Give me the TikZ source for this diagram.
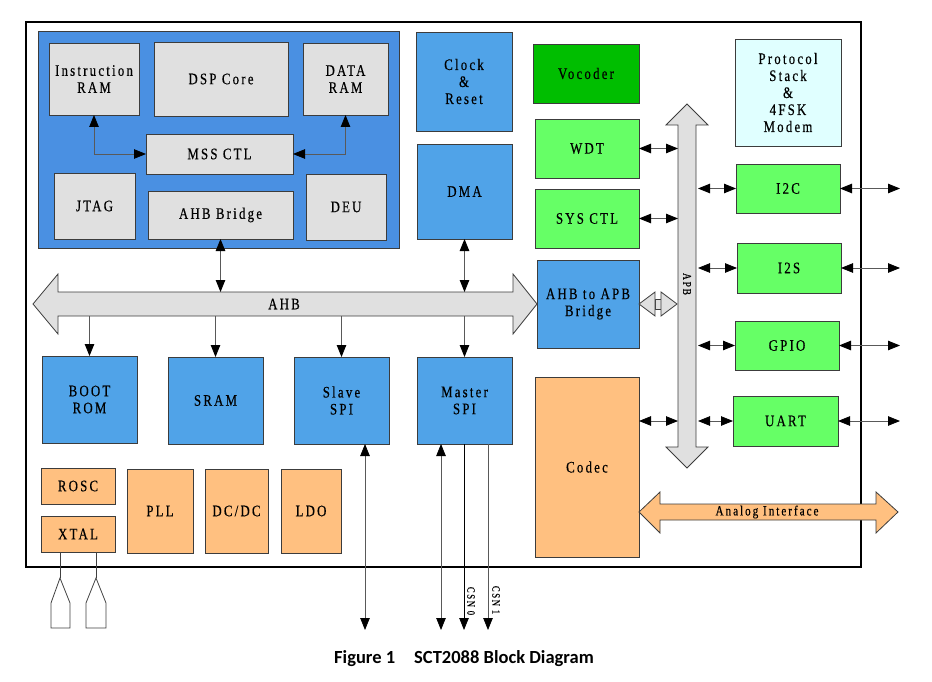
\documentclass[tikz,border=0pt]{standalone}
\usepackage{fontspec}
\setmainfont{Liberation Serif}[FakeStretch=0.8,LetterSpace=14,FakeBold=0.4]
\newfontfamily\capfont{Carlito}
\usetikzlibrary{arrows.meta}
\definecolor{dspblue}{RGB}{74,144,226}
\definecolor{blkblue}{RGB}{80,163,232}
\definecolor{graybox}{RGB}{224,224,224}
\definecolor{vocg}{RGB}{0,190,0}
\definecolor{lgreen}{RGB}{102,255,102}
\definecolor{lcyan}{RGB}{224,255,255}
\definecolor{orng}{RGB}{255,192,128}
\definecolor{edge}{RGB}{60,60,60}
\tikzset{
  box/.style={draw=edge, line width=0.9pt, inner sep=0pt, outer sep=0pt, align=center, font=\fontsize{16}{17}\selectfont},
  bus/.style={draw=edge, line width=0.8pt, fill=graybox, line join=miter},
  >={Triangle[length=12pt,width=9.5pt,color=black]},
  dbl/.style={draw=black!65, line width=0.8pt, <->},
  sgl/.style={draw=black!65, line width=0.8pt, ->},
  small/.style={font=\fontsize{12}{12}\selectfont, inner sep=0pt},
  pin/.style={draw=black!75, line width=0.8pt, fill=white}
}
\newcommand\blk[7]{\node[box,#6,minimum width={(#4-#2)*1pt},minimum height={(#5-#3)*1pt}] (#1) at ({(#2+#4)/2},{(#3+#5)/2}) {#7};}
\begin{document}
\begin{tikzpicture}[x=1pt,y=-1pt]
\useasboundingbox (0,0) rectangle (932,682);
% frame and DSP region
\blk{chip}{26}{22}{861}{567}{draw=black,line width=1.4pt}{}
\blk{dsp}{38}{31}{399}{248}{fill=dspblue}{}
\blk{iram}{49}{43}{139}{115}{fill=graybox}{Instruction\\RAM}
\blk{core}{154}{42}{288}{116}{fill=graybox}{DSP Core}
\blk{dram}{303}{43}{388}{115}{fill=graybox}{DATA\\RAM}
\blk{mss}{146}{134}{293}{174}{fill=graybox}{MSS CTL}
\blk{jtag}{54}{173}{135}{239}{fill=graybox}{JTAG}
\blk{ahbbr}{148}{191}{293}{239}{fill=graybox}{AHB Bridge}
\blk{deu}{306}{174}{386}{240}{fill=graybox}{DEU}
% upper blocks
\blk{clk}{416}{32}{512}{131}{fill=blkblue}{Clock\\\&\\Reset}
\blk{dma}{417}{144}{512}{239}{fill=blkblue}{DMA}
\blk{voc}{533}{44}{639}{103}{fill=vocg}{Vocoder}
\blk{wdt}{535}{119}{639}{178}{fill=lgreen}{WDT}
\blk{sysctl}{535}{189}{639}{248}{fill=lgreen}{SYS CTL}
\blk{proto}{735}{39}{841}{146}{fill=lcyan}{Protocol\\Stack\\\&\\4FSK\\Modem}
\blk{i2c}{736}{164}{840}{213}{fill=lgreen}{I2C}
\blk{i2s}{737}{243}{841}{293}{fill=lgreen}{I2S}
\blk{gpio}{735}{321}{839}{370}{fill=lgreen}{GPIO}
\blk{uart}{733}{396}{838}{446}{fill=lgreen}{UART}
\blk{bridge}{537}{260}{639}{348}{fill=blkblue}{AHB to APB\\Bridge}
\blk{codec}{535}{377}{639}{557}{fill=orng}{Codec}
% lower blocks
\blk{boot}{42}{356}{137}{443}{fill=blkblue}{BOOT\\ROM}
\blk{sram}{168}{357}{263}{444}{fill=blkblue}{SRAM}
\blk{slave}{294}{357}{389}{444}{fill=blkblue}{Slave\\SPI}
\blk{master}{417}{357}{512}{444}{fill=blkblue}{Master\\SPI}
\blk{rosc}{41}{468}{115}{504}{fill=orng}{ROSC}
\blk{xtal}{41}{516}{115}{552}{fill=orng}{XTAL}
\blk{pll}{127}{469}{193}{553}{fill=orng}{PLL}
\blk{dcdc}{205}{469}{268}{553}{fill=orng}{DC/DC}
\blk{ldo}{281}{469}{341}{553}{fill=orng}{LDO}
% AHB bus
\draw[bus] (33,304) -- (58,274) -- (58,292) -- (513,292) -- (513,274) -- (537,304) -- (513,334) -- (513,316) -- (58,316) -- (58,334) -- cycle;
\node[box,draw=none] (ahblbl) at (284,304) {AHB};
\coordinate (ahbtop) at (300,292);
\coordinate (ahbbot) at (300,316);
% APB bus
\draw[bus] (687,104) -- (708,125) -- (696,125) -- (696,447) -- (708,447) -- (687,468) -- (666,447) -- (678,447) -- (678,125) -- (666,125) -- cycle;
\node[small,rotate=-90] (apblbl) at (687,284) {APB};
\coordinate (apbL) at (678,300);
\coordinate (apbR) at (698,300);
% bridge to APB
\draw[bus] (655,299) rectangle (661,309);
\draw[bus] (639,304) -- (655,292) -- (655,316) -- cycle;
\draw[bus] (677,304) -- (661,292) -- (661,316) -- cycle;
% Analog interface
\draw[bus,fill=orng] (639,512) -- (660,492) -- (660,504) -- (876,504) -- (876,492) -- (898,512) -- (876,533) -- (876,520) -- (660,520) -- (660,533) -- cycle;
\node[small,font=\fontsize{14}{14}\selectfont] (analbl) at (767,512) {Analog Interface};
% DSP internal connectors
\draw[dbl] (iram.south) |- (mss.west);
\draw[dbl] (dram.south) |- (mss.east);
\draw[dbl] (ahbbr.south) -- (ahbbr.south |- ahbtop);
\draw[dbl] (dma.south) -- (dma.south |- ahbtop);
\draw[sgl] (boot.north |- ahbbot) -- (boot.north);
\draw[sgl] (sram.north |- ahbbot) -- (sram.north);
\draw[sgl] (slave.north |- ahbbot) -- (slave.north);
\draw[sgl] (master.north |- ahbbot) -- (master.north);
% APB connectors
\draw[dbl] (wdt.east) -- (wdt.east -| apbL);
\draw[dbl] (sysctl.east) -- (sysctl.east -| apbL);
\draw[dbl] (codec.east |- uart.west) -- (apbL |- uart.west);
\draw[dbl] (apbR |- i2c.west) -- (i2c.west);
\draw[dbl] (apbR |- i2s.west) -- (i2s.west);
\draw[dbl] (apbR |- gpio.west) -- (gpio.west);
\draw[dbl] (apbR |- uart.west) -- (uart.west);
\coordinate (extR) at (900,300);
\draw[dbl] (i2c.east) -- (i2c.east -| extR);
\draw[dbl] (i2s.east) -- (i2s.east -| extR);
\draw[dbl] (gpio.east) -- (gpio.east -| extR);
\draw[dbl] (uart.east) -- (uart.east -| extR);
% SPI external lines
\coordinate (sout) at (365,630);
\coordinate (mout) at (441,630);
\coordinate (csn0) at (464,630);
\coordinate (csn1) at (488,630);
\draw[dbl] (sout |- slave.south) -- (sout);
\draw[dbl] (mout |- master.south) -- (mout);
\draw[sgl,draw=black] (csn0 |- master.south) -- (csn0);
\draw[sgl] (csn1 |- master.south) -- (csn1);
\node[small,rotate=-90,font=\fontsize{11}{11}\selectfont] (csn0l) at (471,601) {CSN 0};
\node[small,rotate=-90,font=\fontsize{11}{11}\selectfont] (csn1l) at (496,600) {CSN 1};
% XTAL pins
\coordinate (pin1) at (60,578);
\coordinate (pin2) at (96,578);
\draw[draw=black!75,line width=0.8pt] (xtal.south -| pin1) -- (pin1);
\draw[draw=black!75,line width=0.8pt] (xtal.south -| pin2) -- (pin2);
\draw[pin] (pin1) -- (70,603) -- (70,628) -- (51,628) -- (51,603) -- cycle;
\draw[pin] (pin2) -- (106,603) -- (106,628) -- (86,628) -- (86,603) -- cycle;
% caption
\node[inner sep=0pt,font=\capfont\bfseries\fontsize{18.5}{18.5}\selectfont] (cap) at (464,659) {Figure 1\hspace{19pt}SCT2088 Block Diagram};
\end{tikzpicture}
\end{document}
